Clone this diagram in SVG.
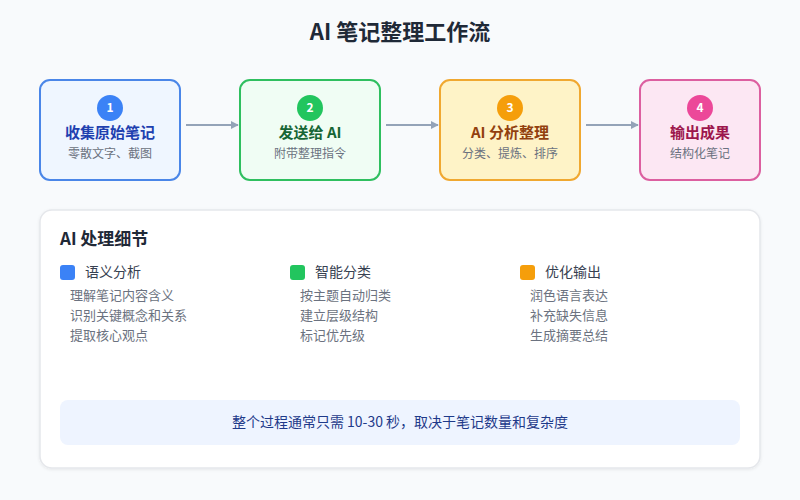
<svg xmlns="http://www.w3.org/2000/svg" width="800" height="500" viewBox="0 0 800 500">
<defs>
<marker id="arr" viewBox="0 0 10 10" refX="9" refY="5" markerWidth="8" markerHeight="8" markerUnits="userSpaceOnUse" orient="auto"><path d="M0,0 L10,5 L0,10 z" fill="#94a3b8"/></marker>
<filter id="sh" x="-5%" y="-5%" width="110%" height="115%"><feDropShadow dx="0" dy="1" stdDeviation="1.5" flood-color="#0f172a" flood-opacity="0.08"/></filter>
</defs>
<style>
text{font-family:"Noto Sans CJK SC","Noto Sans",sans-serif}
.t{font-size:15px;font-weight:700;text-anchor:middle}
.s{font-size:12px;fill:#6b7280;text-anchor:middle}
.n{font-size:12px;font-weight:700;fill:#fff;text-anchor:middle}
.box{stroke-width:2}
.lbl{font-size:14px;fill:#374151}
.it{font-size:13px;fill:#6b7280}
.con{stroke:#94a3b8;stroke-width:2;fill:none}
</style>
<rect width="800" height="500" fill="#f8fafc"/>
<text x="400" y="40" text-anchor="middle" font-size="22" font-weight="700" fill="#1f2937">AI 笔记整理工作流</text>
<g id="connectors">
<line class="con" x1="186" y1="125" x2="238" y2="125" marker-end="url(#arr)"/>
<line class="con" x1="386" y1="125" x2="438" y2="125" marker-end="url(#arr)"/>
<line class="con" x1="586" y1="125" x2="638" y2="125" marker-end="url(#arr)"/>
</g>
<g id="node1">
<rect class="box" x="40" y="80" width="140" height="100" rx="10" fill="#eff6ff" stroke="#4a86e8"/>
<circle cx="110" cy="108" r="13" fill="#3b82f6"/><text class="n" x="110" y="112">1</text>
<text class="t" x="110" y="138" fill="#1e40af">收集原始笔记</text>
<text class="s" x="110" y="158">零散文字、截图</text>
</g>
<g id="node2">
<rect class="box" x="240" y="80" width="140" height="100" rx="10" fill="#f0fdf4" stroke="#2fbf5f"/>
<circle cx="310" cy="108" r="13" fill="#22c55e"/><text class="n" x="310" y="112">2</text>
<text class="t" x="310" y="138" fill="#166534">发送给 AI</text>
<text class="s" x="310" y="158">附带整理指令</text>
</g>
<g id="node3">
<rect class="box" x="440" y="80" width="140" height="100" rx="10" fill="#fef3c7" stroke="#f0a830"/>
<circle cx="510" cy="108" r="13" fill="#f59e0b"/><text class="n" x="510" y="112">3</text>
<text class="t" x="510" y="138" fill="#92400e">AI 分析整理</text>
<text class="s" x="510" y="158">分类、提炼、排序</text>
</g>
<g id="node4">
<rect class="box" x="640" y="80" width="120" height="100" rx="10" fill="#fce7f3" stroke="#dc5fa0"/>
<circle cx="700" cy="108" r="13" fill="#ec4899"/><text class="n" x="700" y="112">4</text>
<text class="t" x="700" y="138" fill="#9d174d">输出成果</text>
<text class="s" x="700" y="158">结构化笔记</text>
</g>
<g id="details">
<rect x="40" y="210" width="720" height="258" rx="12" fill="#ffffff" stroke="#e5e7eb" stroke-width="1.5" filter="url(#sh)"/>
<text x="60" y="245" font-size="17" font-weight="700" fill="#1f2937">AI 处理细节</text>
<rect x="60" y="265" width="15" height="15" rx="3" fill="#3b82f6"/>
<text class="lbl" x="85" y="277">语义分析</text>
<text class="it" x="70" y="300">理解笔记内容含义</text>
<text class="it" x="70" y="320">识别关键概念和关系</text>
<text class="it" x="70" y="340">提取核心观点</text>
<rect x="290" y="265" width="15" height="15" rx="3" fill="#22c55e"/>
<text class="lbl" x="315" y="277">智能分类</text>
<text class="it" x="300" y="300">按主题自动归类</text>
<text class="it" x="300" y="320">建立层级结构</text>
<text class="it" x="300" y="340">标记优先级</text>
<rect x="520" y="265" width="15" height="15" rx="3" fill="#f59e0b"/>
<text class="lbl" x="545" y="277">优化输出</text>
<text class="it" x="530" y="300">润色语言表达</text>
<text class="it" x="530" y="320">补充缺失信息</text>
<text class="it" x="530" y="340">生成摘要总结</text>
<rect x="60" y="400" width="680" height="45" rx="8" fill="#eef4ff"/>
<text x="400" y="427" text-anchor="middle" font-size="14" fill="#1e3a8a">整个过程通常只需 10-30 秒，取决于笔记数量和复杂度</text>
</g>
</svg>
